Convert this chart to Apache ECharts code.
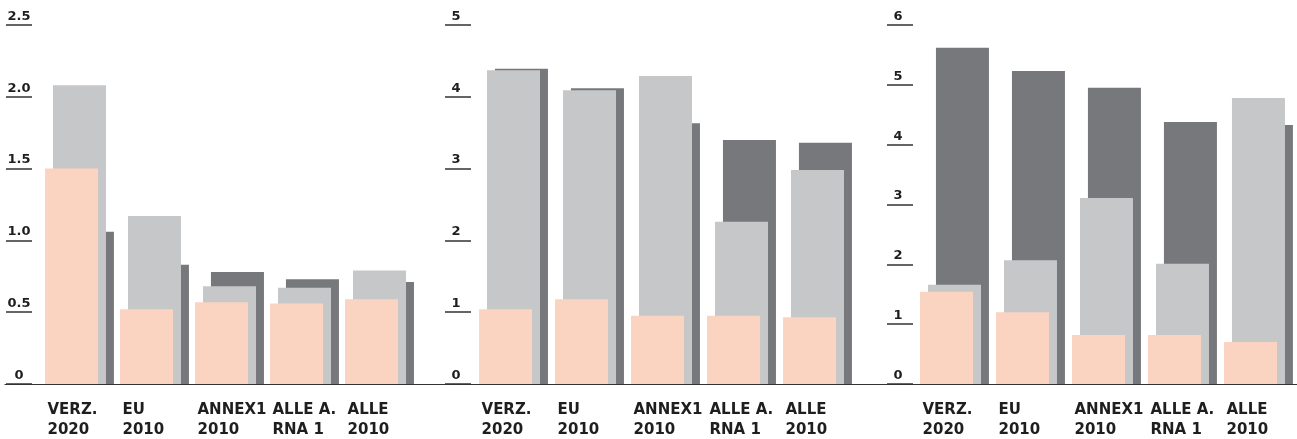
<!DOCTYPE html>
<html>
<head>
<meta charset="utf-8">
<script src="https://cdn.jsdelivr.net/npm/echarts@6/dist/echarts.min.js"></script>
<style>
  html, body { margin: 0; padding: 0; background: #fff; }
  #chart { width: 1297px; height: 439px; }
</style>
</head>
<body>
<div id="chart"></div>
<script>
// category labels, two lines each
var categories = [['VERZ.', '2020'], ['EU', '2010'], ['ANNEX1', '2010'], ['ALLE A.', 'RNA 1'], ['ALLE', '2010']];

// panel 1
var yTicks1 = ['0', '0.5', '1.0', '1.5', '2.0', '2.5'];
var salmon1 = [1.50, 0.52, 0.57, 0.56, 0.59];
var light1 = [2.08, 1.17, 0.68, 0.67, 0.79];
var dark1 = [1.06, 0.83, 0.78, 0.73, 0.71];

// panel 2
var yTicks2 = ['0', '1', '2', '3', '4', '5'];
var salmon2 = [1.04, 1.18, 0.95, 0.95, 0.93];
var light2 = [4.37, 4.09, 4.29, 2.26, 2.98];
var dark2 = [4.39, 4.12, 3.63, 3.40, 3.36];

// panel 3
var yTicks3 = ['0', '1', '2', '3', '4', '5', '6'];
var salmon3 = [1.54, 1.20, 0.82, 0.82, 0.70];
var light3 = [1.66, 2.07, 3.11, 2.01, 4.78];
var dark3 = [5.62, 5.23, 4.95, 4.38, 4.33];

var FONT = 'DejaVu Sans';
var TEXT = '#1e1e1e';

toPoints = (vals) => vals.map((v, i) => [i, v]);

var grids = [];
var xAxes = [];
var yAxes = [];
var series = [];

addPanel = (p) => {
    var i = grids.length;
    grids.push({
        left: p.left, width: p.width, top: 25, bottom: 55,
        outerBoundsMode: 'none', containLabel: false
    });
    xAxes.push({
        gridIndex: i,
        type: 'value',
        min: p.xMin,
        max: p.xMax,
        splitLine: { show: false },
        axisTick: { show: false },
        axisLine: { show: true, onZero: false, lineStyle: { color: '#333', width: 1.2 } },
        axisLabel: {
            align: 'center',
            margin: 16,
            formatter: (v) => {
                var k = Math.round(v);
                if (Math.abs(v - k) > 1e-6 || !categories[k]) return '';
                return categories[k].map(s => '{t|' + s + '}').join('\n');
            },
            rich: {
                t: {
                    width: 64, align: 'left', fontSize: 15, fontWeight: 'bold',
                    fontFamily: FONT, color: TEXT, lineHeight: 20
                }
            }
        }
    });
    yAxes.push({
        gridIndex: i,
        type: 'value',
        min: 0,
        max: p.yStep * (p.yTicks.length - 1),
        interval: p.yStep,
        offset: p.yOffset,
        splitLine: { show: false },
        axisLine: { show: false, onZero: false },
        axisTick: { show: true, inside: true, length: 26, lineStyle: { color: '#333', width: 1.5 } },
        axisLabel: {
            inside: true,
            margin: p.labelMargin,
            align: 'center',
            verticalAlign: 'bottom',
            padding: [0, 0, 2, 0],
            fontSize: 13,
            fontWeight: 'bold',
            fontFamily: FONT,
            color: TEXT,
            formatter: (v) => p.yTicks[Math.round(v / p.yStep)] || ''
        }
    });
    var common = { type: 'bar', xAxisIndex: i, yAxisIndex: i, barWidth: 53, barGap: '-85%', silent: true };
    series.push(Object.assign({}, common, { data: toPoints(p.salmon), z: 4, itemStyle: { color: '#fbd3c1' } }));
    series.push(Object.assign({}, common, { data: toPoints(p.light), z: 3, itemStyle: { color: '#c6c7c9' } }));
    series.push(Object.assign({}, common, { data: toPoints(p.dark), z: 2, itemStyle: { color: '#77787b' } }));
}

addPanel({ left: 5, width: 425, xMin: -0.993, xMax: 4.673, yStep: 0.5, yTicks: yTicks1,
    yOffset: -1, labelMargin: 13, salmon: salmon1, light: light1, dark: dark1 });
addPanel({ left: 430, width: 440, xMin: -1.099, xMax: 4.691, yStep: 1, yTicks: yTicks2,
    yOffset: -15, labelMargin: 11, salmon: salmon2, light: light2, dark: dark2 });
addPanel({ left: 870, width: 427, xMin: -1.112, xMax: 4.507, yStep: 1, yTicks: yTicks3,
    yOffset: -17, labelMargin: 11, salmon: salmon3, light: light3, dark: dark3 });

var chart = echarts.init(document.getElementById('chart'));
chart.setOption({
    animation: false,
    backgroundColor: '#fff',
    grid: grids,
    xAxis: xAxes,
    yAxis: yAxes,
    series: series
});
</script>
</body>
</html>
